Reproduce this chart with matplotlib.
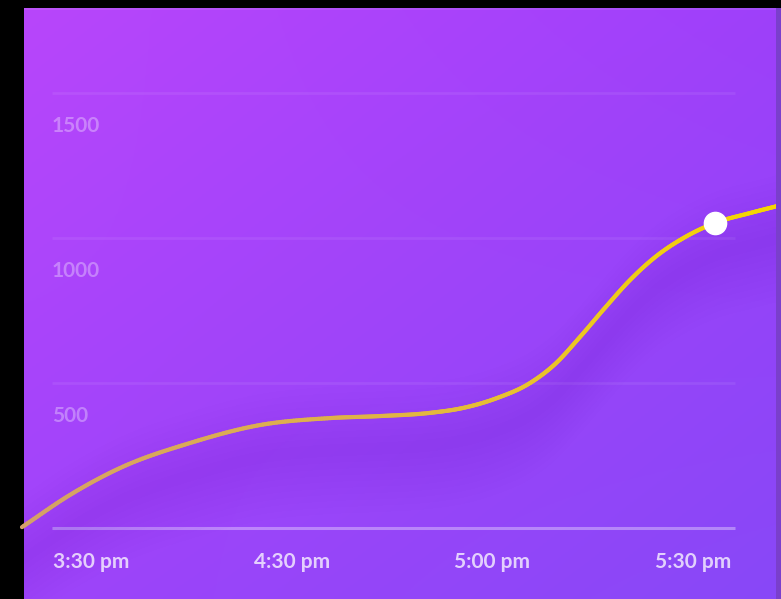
import numpy as np
import matplotlib
matplotlib.use("Agg")
import matplotlib.pyplot as plt
from matplotlib.collections import LineCollection
from matplotlib.transforms import offset_copy
from matplotlib.patches import Rectangle

# ---- data ----
time_labels = ["3:30 pm", "4:30 pm", "5:00 pm", "5:30 pm"]
y_ticks = [500, 1000, 1500]
y_tick_labels = ["500", "1000", "1500"]
series_x = [-0.344, -0.105, 0.145, 0.493, 0.842, 1.191, 1.440, 1.689, 1.854, 2.023,
            2.188, 2.312, 2.437, 2.561, 2.686, 2.811, 2.960, 3.110, 3.284, 3.419]
series_y = [3, 114, 207, 293, 355, 379, 386, 397, 414, 448,
            500, 565, 659, 759, 855, 934, 1003, 1052, 1086, 1110]
highlight_x = 3.110
highlight_y = 1052

W, H = 781, 599
fig = plt.figure(figsize=(W / 100, H / 100), dpi=100, facecolor="black")

# ---- gradient background panel ----
panel = [24 / W, 0, 1 - 24 / W, (H - 8) / H]
bg = fig.add_axes(panel)
bg.set_axis_off()
tl = np.array([184, 70, 251]) / 255
tr = np.array([158, 64, 250]) / 255
bl = np.array([158, 68, 250]) / 255
br = np.array([136, 72, 247]) / 255
u = np.linspace(0, 1, 200)[None, :, None]
v = np.linspace(0, 1, 200)[:, None, None]
img = (1 - v) * ((1 - u) * tl + u * tr) + v * ((1 - u) * bl + u * br)
bg.imshow(img, aspect="auto", extent=[0, 1, 0, 1], origin="upper")
bg.set_xlim(0, 1)
bg.set_ylim(0, 1)
bg.add_patch(Rectangle((0, 0.996), 1, 0.004, color="white", alpha=0.08, lw=0))

# ---- main axes ----
ax = fig.add_axes([0, 0, 1, 1])
ax.set_facecolor("none")
ax.set_xlim(-0.4535, 3.4385)
ax.set_ylim(-244.8, 1820.7)
ax.set_axis_off()

clip_rect = Rectangle((panel[0], panel[1]), panel[2], panel[3],
                      transform=fig.transFigure, fill=False, lw=0)

# smooth rendering of the read points (cubic Hermite in x)
px = np.array(series_x, float)
py = np.array(series_y, float)
h = np.diff(px)
d = np.diff(py) / h
m = np.empty_like(py)
m[0] = d[0]
m[-1] = d[-1]
for i in range(1, len(px) - 1):
    m[i] = (d[i - 1] * h[i] + d[i] * h[i - 1]) / (h[i - 1] + h[i])
sx, sy = [], []
for i in range(len(px) - 1):
    t = np.linspace(0, 1, 25, endpoint=False)
    h00 = 2 * t**3 - 3 * t**2 + 1
    h10 = t**3 - 2 * t**2 + t
    h01 = -2 * t**3 + 3 * t**2
    h11 = t**3 - t**2
    sx.extend(px[i] + t * h[i])
    sy.extend(h00 * py[i] + h10 * h[i] * m[i] + h01 * py[i + 1] + h11 * h[i] * m[i + 1])
sx.append(px[-1]); sy.append(py[-1])
sx = np.array(sx); sy = np.array(sy)

# grid lines
gx0, gx1 = -0.194, 3.209
ax.hlines(y_ticks, gx0, gx1, color="white", alpha=0.07, lw=2, zorder=1)
ax.hlines([0], gx0, gx1, color="white", alpha=0.35, lw=2.2, zorder=1)

# soft shadow under the curve
for k in range(10):
    hw = 20 + k * 22
    fb = ax.fill_between(sx, sy - 110 - hw, sy - 110 + hw, color="#5a28b0",
                         alpha=0.012, lw=0, zorder=2)
    fb.set_clip_path(clip_rect)

# gradient line
pts = np.column_stack([sx, sy]).reshape(-1, 1, 2)
segs = np.concatenate([pts[:-1], pts[1:]], axis=1)
f = np.linspace(0, 1, len(segs))
c_left = np.array([212, 160, 105]) / 255
c_mid = np.array([232, 192, 48]) / 255
c_right = np.array([246, 214, 0]) / 255
cols = []
for t in f:
    if t < 0.5:
        c = c_left + (c_mid - c_left) * (t / 0.5)
    else:
        c = c_mid + (c_right - c_mid) * ((t - 0.5) / 0.5)
    cols.append(c)
lc = LineCollection(segs, colors=cols, linewidths=3.0, capstyle="round", zorder=3)
lc.set_clip_path(clip_rect)
ax.add_collection(lc)

# highlight dot
ax.plot([highlight_x], [highlight_y], "o", ms=16, color="white", mec="white", zorder=4)

# y labels (below each grid line)
ytr = offset_copy(ax.transData, fig=fig, x=0, y=-33, units="dots")
for val, lab in zip(y_ticks, y_tick_labels):
    ax.text(gx0, val, lab, transform=ytr, ha="left", va="center",
            fontsize=15, fontfamily="Lato", fontweight="bold",
            color="white", alpha=0.33)

# x labels
xtr = offset_copy(ax.transData, fig=fig, x=0, y=-34, units="dots")
for i, lab in enumerate(time_labels):
    ax.text(i, 0, lab, transform=xtr, ha="center", va="center",
            fontsize=15, fontfamily="Lato", fontweight="bold",
            color="white", alpha=0.75)

# right edge strip
fig.patches.append(Rectangle((776 / W, 0), 5 / W, (H - 8) / H, transform=fig.transFigure,
                             color="#7a3fcc", lw=0, zorder=0))

fig.savefig("out.png", dpi=100, facecolor="black")
